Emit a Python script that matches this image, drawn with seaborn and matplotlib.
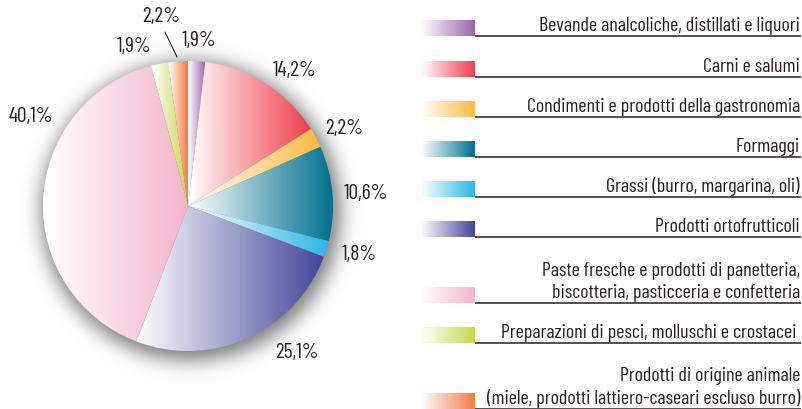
import math
import numpy as np
import matplotlib
matplotlib.use("Agg")
import matplotlib.pyplot as plt
from matplotlib.colors import LinearSegmentedColormap
import seaborn as sns

# Quote di mercato per comparto (percentuali)
categories = [
    "Bevande analcoliche, distillati e liquori",
    "Carni e salumi",
    "Condimenti e prodotti della gastronomia",
    "Formaggi",
    "Grassi (burro, margarina, oli)",
    "Prodotti ortofrutticoli",
    "Paste fresche e prodotti di panetteria,\nbiscotteria, pasticceria e confetteria",
    "Preparazioni di pesci, molluschi e crostacei ",
    "Prodotti di origine animale\n(miele, prodotti lattiero-caseari escluso burro)",
]
shares = [1.9, 14.2, 2.2, 10.6, 1.8, 25.1, 40.1, 1.9, 2.2]
pct_labels = ["1,9%", "14,2%", "2,2%", "10,6%", "1,8%", "25,1%", "40,1%", "1,9%", "2,2%"]
colors = ["#9b63aa", "#ee3e4c", "#fdb940", "#00708e", "#2ab6e8",
          "#45449a", "#f4b4cb", "#c8d74a", "#f47c45"]

sns.set_theme(style="white")
plt.rcParams["font.family"] = ["Barlow Condensed", "DejaVu Sans"]
TXT = "#231f20"

W, H = 803, 410
fig = plt.figure(figsize=(W / 100, H / 100), dpi=100)
ax = fig.add_axes([0, 0, 1, 1])


def py(y):
    # pixel row (from top) -> data y
    return H - y


cx, cy, R = 188, py(207), 145

# soft drop shadow behind the pie
yy, xx = np.mgrid[0:H, 0:W] + 0.5
d = np.hypot(xx - (cx + 3), (H - yy) - (cy - 5))
sigma = 9.5
erfc = np.frompyfunc(math.erfc, 1, 1)
a = 0.5 * erfc((d - (R + 4)) / (sigma * math.sqrt(2))).astype(float)
shadow = np.zeros((H, W, 4))
shadow[..., :3] = 0.2
shadow[..., 3] = 0.65 * a
ax.imshow(shadow, extent=(0, W, 0, H), origin="upper", zorder=1,
          interpolation="bilinear")

wedges, _ = ax.pie(shares, startangle=90, counterclock=False,
                   center=(cx, cy), radius=R, frame=True,
                   wedgeprops=dict(linewidth=0))

grad = np.linspace(0, 1, 256).reshape(1, -1)
for w, c in zip(wedges, colors):
    t = np.radians(np.linspace(w.theta1, w.theta2, 200))
    xs = np.concatenate([[cx], cx + R * np.cos(t)])
    ys = np.concatenate([[cy], cy + R * np.sin(t)])
    cmap = LinearSegmentedColormap.from_list("g", ["white", c])
    im = ax.imshow(grad, cmap=cmap, extent=(xs.min(), xs.max(), ys.min(), ys.max()),
                   aspect="auto", interpolation="bilinear", zorder=3)
    im.set_clip_path(w)
    w.set_facecolor("none")
    w.set_zorder(2)

# percentage labels
label_pos = [(199, 40), (295, 70), (344, 128), (366, 194), (359, 254),
             (297, 353), (31, 116), (134, 47), (161, 17)]
for (lx, ly), txt in zip(label_pos, pct_labels):
    ax.text(lx, py(ly), txt, ha="center", va="center", fontsize=15.5,
            color=TXT, zorder=5)
ax.plot([165, 177], [py(33), py(58)], color=TXT, lw=0.8, zorder=5)

# legend rows: swatch, rule and right-aligned caption
rule_y = [37, 78, 118, 158, 198, 238, 304, 344, 410]
for name, c, ly in zip(categories, colors, rule_y):
    cmap = LinearSegmentedColormap.from_list("g", ["white", c])
    ax.imshow(grad, cmap=cmap, extent=(421, 475, py(ly), py(ly - 16)),
              aspect="auto", interpolation="bilinear", zorder=3)
    ax.plot([475, 801], [py(ly), py(ly)], color=TXT, lw=1.1, zorder=3,
            solid_capstyle="butt")
    ax.text(800, py(ly - 6), name, ha="right", va="baseline", fontsize=14.4,
            color=TXT, linespacing=1.25, zorder=5)

ax.set_xlim(0, W)
ax.set_ylim(0, H)
ax.set_aspect("auto")
ax.axis("off")
fig.savefig("out.png", dpi=100, facecolor="white")
